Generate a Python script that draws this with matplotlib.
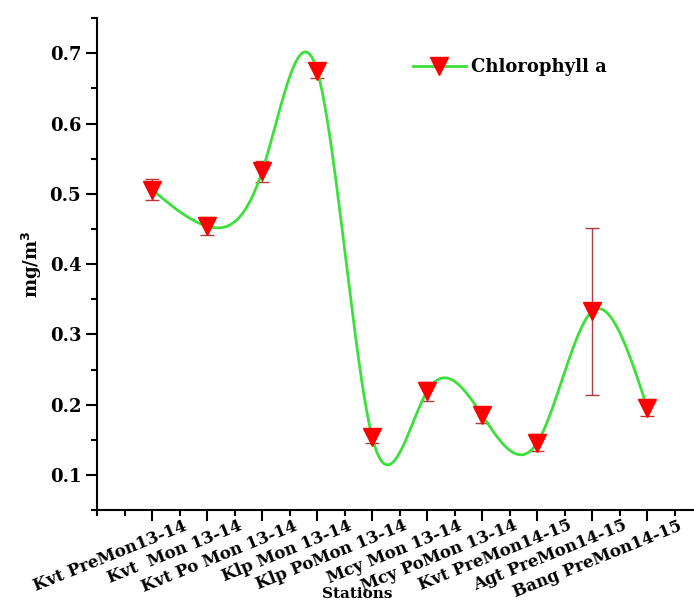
import numpy as np
import matplotlib.pyplot as plt
from matplotlib.lines import Line2D
import matplotlib.transforms as mtransforms

# Chlorophyll a at each station / season (mg/m3), mean and std
stations = ["Kvt PreMon13-14", "Kvt  Mon 13-14", "Kvt Po Mon 13-14", "Klp Mon 13-14",
            "Klp PoMon 13-14", "Mcy Mon 13-14", "Mcy PoMon 13-14", "Kvt PreMon14-15",
            "Agt PreMon14-15", "Bang PreMon14-15"]
chl_mean = [0.506, 0.454, 0.532, 0.675, 0.154, 0.219, 0.185, 0.146, 0.333, 0.196]
chl_err = [0.015, 0.013, 0.015, 0.010, 0.009, 0.014, 0.011, 0.012, 0.119, 0.012]

plt.rcParams['font.family'] = 'DejaVu Serif'
plt.rcParams['font.weight'] = 'bold'


def natural_spline(x, y, n=400):
    # plain natural cubic spline through the points
    x = np.asarray(x, float)
    y = np.asarray(y, float)
    k = len(x)
    h = np.diff(x)
    A = np.zeros((k, k))
    b = np.zeros(k)
    A[0, 0] = A[-1, -1] = 1
    for i in range(1, k - 1):
        A[i, i - 1] = h[i - 1]
        A[i, i] = 2 * (h[i - 1] + h[i])
        A[i, i + 1] = h[i]
        b[i] = 6 * ((y[i + 1] - y[i]) / h[i] - (y[i] - y[i - 1]) / h[i - 1])
    m = np.linalg.solve(A, b)
    xs = np.linspace(x[0], x[-1], n)
    idx = np.clip(np.searchsorted(x, xs) - 1, 0, k - 2)
    x0, x1 = x[idx], x[idx + 1]
    hh = x1 - x0
    t0, t1 = x1 - xs, xs - x0
    ys = (m[idx] * t0**3 + m[idx + 1] * t1**3) / (6 * hh) \
        + (y[idx] / hh - m[idx] * hh / 6) * t0 \
        + (y[idx + 1] / hh - m[idx + 1] * hh / 6) * t1
    return xs, ys


x = np.arange(1, len(stations) + 1)
xs, ys = natural_spline(x, chl_mean)

fig = plt.figure(figsize=(6.94, 6.03), dpi=100)
ax = fig.add_axes([0.140, 0.154, 0.860, 0.816])

green = '#3be03b'
ax.plot(xs, ys, color=green, lw=2, zorder=2)
ax.errorbar(x, chl_mean, yerr=chl_err, fmt='none', ecolor='#b83a3a',
            elinewidth=1, capsize=5, capthick=1, zorder=1)
ax.plot(x, chl_mean, 'v', color='red', markersize=13, zorder=3)

ax.set_xlim(0, 10.85)
ax.set_ylim(0.05, 0.75)
ax.set_yticks([0.1, 0.2, 0.3, 0.4, 0.5, 0.6, 0.7])
ax.set_yticks(np.arange(0.05, 0.751, 0.05), minor=True)
ax.set_xticks(x)
ax.set_xticks(np.arange(0, 11, 0.5), minor=True)
ax.set_xticklabels([])

# slanted station names, right end sitting a bit past each tick
shift = mtransforms.ScaledTranslation(31 / 100, -7 / 100, fig.dpi_scale_trans)
for xi, name in zip(x, stations):
    ax.text(xi, 0, name, transform=ax.get_xaxis_transform() + shift,
            rotation=22, rotation_mode='anchor', ha='right', va='top',
            fontsize=12, fontweight='bold')

ax.tick_params(axis='both', which='major', length=8, width=1.5, direction='out')
ax.tick_params(axis='both', which='minor', length=4, width=1.5, direction='out')
ax.tick_params(axis='y', labelsize=13)
for s in ['top', 'right']:
    ax.spines[s].set_visible(False)
for s in ['left', 'bottom']:
    ax.spines[s].set_linewidth(1.5)

ax.set_ylabel('mg/m$^{3}$', fontsize=13, fontweight='bold')
fig.text(357 / 694, 1 - 594 / 603, 'Stations', ha='center', va='center',
         fontsize=11, fontweight='bold')

handle = Line2D([], [], color=green, lw=2, marker='v', markerfacecolor='red',
                markeredgecolor='red', markersize=13)
ax.legend([handle], ['Chlorophyll a'], loc='center left', frameon=False,
          bbox_to_anchor=(397 / 694, 1 - 67 / 603), bbox_transform=fig.transFigure,
          handlelength=2.9, handletextpad=0.3, fontsize=13)

fig.savefig('out.png', dpi=100)
